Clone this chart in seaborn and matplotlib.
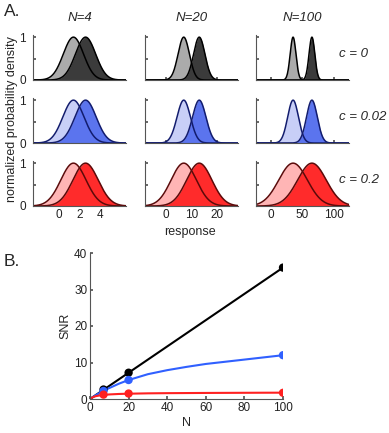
import numpy as np
import pandas as pd
import matplotlib
matplotlib.use("Agg")
import matplotlib.pyplot as plt
import seaborn as sns

# ---- panel A: read-off means / sds of the two response distributions
pop_sizes = [4, 20, 100]
corr_labels = ["c = 0", "c = 0.02", "c = 0.2"]
mean_low = [1.4, 7.0, 35.0]
mean_high = [2.6, 13.0, 65.0]
sd_c0 = [1.0, 2.2, 4.6]
sd_c002 = [1.05, 2.6, 8.6]
sd_c02 = [1.25, 4.9, 22.8]
xlims = [(-2.6, 6.6), (-8, 28), (-24, 124)]
xticks = [[0, 2, 4], [0, 10, 20], [0, 50, 100]]

# ---- panel B: SNR vs N
curve_n = [0, 1, 2, 3, 5, 7, 10, 15, 20, 30, 40, 50, 60, 70, 80, 90, 100]
snr_c0 = [0, 0.36, 0.72, 1.08, 1.8, 2.5, 3.6, 5.4, 7.2, 10.8, 14.4, 18.0, 21.6, 25.2, 28.8, 32.4, 36.0]
snr_c002 = [0, 0.36, 0.7, 1.04, 1.66, 2.25, 3.0, 4.2, 5.2, 6.8, 7.9, 8.8, 9.6, 10.2, 10.8, 11.4, 12.0]
snr_c02 = [0, 0.36, 0.6, 0.77, 0.98, 1.1, 1.25, 1.38, 1.45, 1.55, 1.6, 1.63, 1.66, 1.68, 1.7, 1.72, 1.73]
pts_n = [7, 20, 100]
pts_c0 = [2.6, 7.2, 36.0]
pts_c002 = [2.2, 5.2, 12.0]
pts_c02 = [1.2, 1.5, 1.7]

row_sds = [sd_c0, sd_c002, sd_c02]
fills = [("#ababab", "#3b3b3b", "black"),
         ("#c8cff7", "#5b74ee", "#121c6e"),
         ("#ffb5b5", "#ff2b2b", "#5c0a0a")]
line_cols = ["black", "#3060ff", "#ff2020"]

sns.set_theme(style="ticks")
plt.rcParams.update({
    "font.family": ["Liberation Sans", "DejaVu Sans"],
    "xtick.direction": "in", "ytick.direction": "in",
    "xtick.color": "#555555", "ytick.color": "#555555",
    "xtick.labelcolor": "#222222", "ytick.labelcolor": "#222222",
    "axes.edgecolor": "#555555", "axes.linewidth": 0.8,
    "xtick.major.size": 2.5, "ytick.major.size": 2.5,
    "xtick.labelsize": 8.5, "ytick.labelsize": 8.5,
})

W, H = 389, 433
fig = plt.figure(figsize=(W / 100, H / 100), dpi=100)

col_left = [33, 145, 256]
row_bottom = [80, 143, 206]
aw, ah = 93, 45

for r in range(3):
    for c in range(3):
        ax = fig.add_axes([col_left[c] / W, 1 - row_bottom[r] / H, aw / W, ah / H])
        lo, hi = xlims[c]
        x = np.linspace(lo, hi, 400)
        sd = row_sds[r][c]
        light, dark, edge = fills[r]
        curves = []
        for m in (mean_low[c], mean_high[c]):
            curves.append(np.exp(-0.5 * ((x - m) / sd) ** 2))
        df = pd.DataFrame({"x": np.tile(x, 2),
                           "y": np.concatenate(curves),
                           "which": ["low"] * len(x) + ["high"] * len(x)})
        ax.fill_between(x, curves[0], color=light, lw=0)
        ax.fill_between(x, curves[1], color=dark, lw=0)
        sns.lineplot(data=df, x="x", y="y", units="which", estimator=None,
                     color=edge, lw=1.1, ax=ax, legend=False)
        ax.set_xlim(lo, hi)
        ax.set_ylim(0, 1.05)
        ax.set_yticks([0, 0.5, 1])
        ax.set_xticks(xticks[c])
        ax.set_xlabel("")
        ax.set_ylabel("")
        ax.set_yticklabels(["0", "", "1"] if c == 0 else [])
        if r < 2:
            ax.set_xticklabels([])
        ax.tick_params(axis="x", pad=2)
        ax.tick_params(axis="y", pad=5)
        sns.despine(ax=ax)
        if r == 0:
            ax.set_title(f"N={pop_sizes[c]}", fontsize=9.5, style="italic", pad=10)
    fig.text(339 / W, 1 - (row_bottom[r] - 26) / H, corr_labels[r],
             fontsize=9.5, style="italic", ha="left", va="center")

fig.text(4 / W, 1 - 12 / H, "A.", fontsize=12.5, ha="left", va="center")
fig.text(12 / W, 1 - 119 / H, "normalized probability density", fontsize=9,
         rotation=90, ha="center", va="center")
fig.text(190 / W, 1 - 232 / H, "response", fontsize=9, ha="center", va="center")

# ---- panel B
fig.text(4 / W, 1 - 262 / H, "B.", fontsize=12.5, ha="left", va="center")
axb = fig.add_axes([90 / W, 34 / H, 193 / W, 146 / H])
curves_b = pd.DataFrame({
    "N": curve_n * 3,
    "SNR": snr_c0 + snr_c002 + snr_c02,
    "c": ["0"] * len(curve_n) + ["0.02"] * len(curve_n) + ["0.2"] * len(curve_n),
})
pts_b = pd.DataFrame({
    "N": pts_n * 3,
    "SNR": pts_c0 + pts_c002 + pts_c02,
    "c": ["0"] * 3 + ["0.02"] * 3 + ["0.2"] * 3,
})
pal = dict(zip(["0", "0.02", "0.2"], line_cols))
sns.lineplot(data=curves_b, x="N", y="SNR", hue="c", palette=pal, lw=1.5,
             ax=axb, legend=False)
sns.scatterplot(data=pts_b, x="N", y="SNR", hue="c", palette=pal, s=36,
                edgecolor="none", ax=axb, legend=False, zorder=5)
axb.set_xlim(0, 100)
axb.set_ylim(0, 40)
axb.set_xticks(range(0, 101, 20))
axb.set_yticks(range(0, 41, 10))
axb.set_xlabel("N", fontsize=9, labelpad=2)
axb.set_ylabel("SNR", fontsize=9, labelpad=2)
axb.tick_params(pad=2)
sns.despine(ax=axb)

fig.savefig("out.png", dpi=100)
